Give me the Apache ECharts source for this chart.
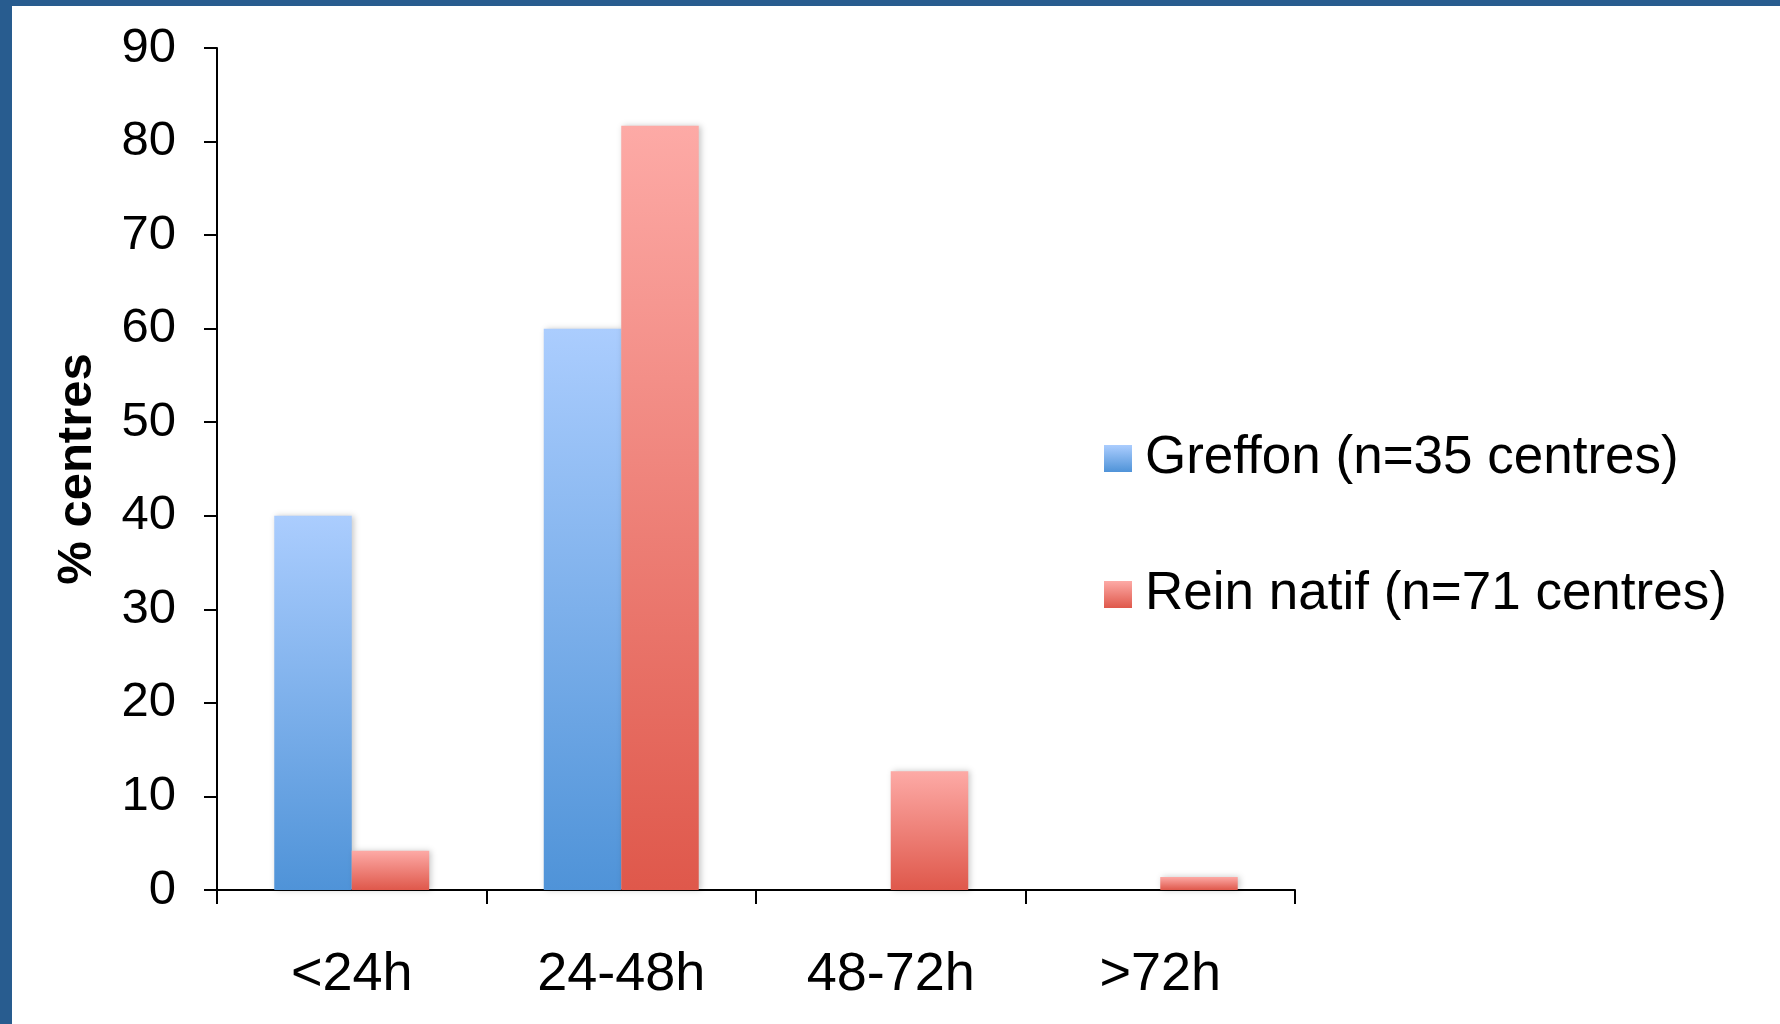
<!DOCTYPE html>
<html>
<head>
<meta charset="utf-8">
<script src="https://cdn.jsdelivr.net/npm/echarts@6/dist/echarts.min.js"></script>
<style>
	html, body { margin: 0; padding: 0; background: #ffffff; }
	#chart { width: 1780px; height: 1024px; }
</style>
</head>
<body>
<div id="chart"></div>
<script>
var categories = [ '<24h', '24-48h', '48-72h', '>72h' ];
var greffon = [ 40, 60, 0, 0 ];
var reinNatif = [ 4.2, 81.7, 12.7, 1.4 ];
var seriesNames = [ 'Greffon (n=35 centres)', 'Rein natif (n=71 centres)' ];
var yTicks = { min : 0, max : 90, interval : 10 };

var blueFill = new echarts.graphic.LinearGradient(0, 0, 0, 1, [ {
	offset : 0,
	color : '#abcdfe'
}, {
	offset : 1,
	color : '#4f93d8'
} ]);
var redFill = new echarts.graphic.LinearGradient(0, 0, 0, 1, [ {
	offset : 0,
	color : '#fdaaa6'
}, {
	offset : 1,
	color : '#df584b'
} ]);

var option = {
	animation : false,
	textStyle : {
		fontFamily : 'Liberation Sans, Arial, sans-serif'
	},
	graphic : [ {
		type : 'rect',
		left : 0,
		top : 0,
		shape : { width : 1780, height : 6 },
		style : { fill : '#285c8f' }
	}, {
		type : 'rect',
		left : 0,
		top : 0,
		shape : { width : 12, height : 1024 },
		style : { fill : '#285c8f' }
	} ],
	grid : {
		left : 217,
		right : 485,
		top : 48,
		bottom : 134
	},
	legend : {
		orient : 'vertical',
		left : 1099,
		top : 427,
		icon : 'rect',
		itemWidth : 28,
		itemHeight : 27,
		itemGap : 83,
		textStyle : {
			fontSize : 53,
			color : '#000000',
			padding : [ 0, 0, 0, 8 ]
		},
		data : seriesNames
	},
	xAxis : {
		type : 'category',
		data : categories,
		axisLine : {
			lineStyle : { color : '#000000', width : 2 }
		},
		axisTick : {
			show : true,
			length : 14,
			lineStyle : { color : '#000000', width : 2 }
		},
		axisLabel : {
			fontSize : 54,
			color : '#000000',
			margin : 58
		}
	},
	yAxis : {
		type : 'value',
		min : yTicks.min,
		max : yTicks.max,
		interval : yTicks.interval,
		name : '% centres',
		nameLocation : 'middle',
		nameGap : 115,
		nameTextStyle : {
			fontSize : 49,
			fontWeight : 'bold',
			color : '#000000'
		},
		splitLine : { show : false },
		axisLine : {
			show : true,
			lineStyle : { color : '#000000', width : 2 }
		},
		axisTick : {
			show : true,
			length : 13,
			lineStyle : { color : '#000000', width : 2 }
		},
		axisLabel : {
			fontSize : 49,
			color : '#000000',
			margin : 41,
			padding : [ 9, 0, 0, 0 ]
		}
	},
	series : [ {
		name : seriesNames[0],
		type : 'bar',
		data : greffon,
		barGap : '0%',
		barCategoryGap : '42.5%',
		itemStyle : {
			color : blueFill,
			shadowColor : 'rgba(0, 0, 0, 0.22)',
			shadowBlur : 6,
			shadowOffsetX : 2
		}
	}, {
		name : seriesNames[1],
		type : 'bar',
		data : reinNatif,
		barGap : '0%',
		barCategoryGap : '42.5%',
		itemStyle : {
			color : redFill,
			shadowColor : 'rgba(0, 0, 0, 0.22)',
			shadowBlur : 6,
			shadowOffsetX : 2
		}
	} ]
};

var chart = echarts.init(document.getElementById('chart'));
chart.setOption(option);
</script>
</body>
</html>
